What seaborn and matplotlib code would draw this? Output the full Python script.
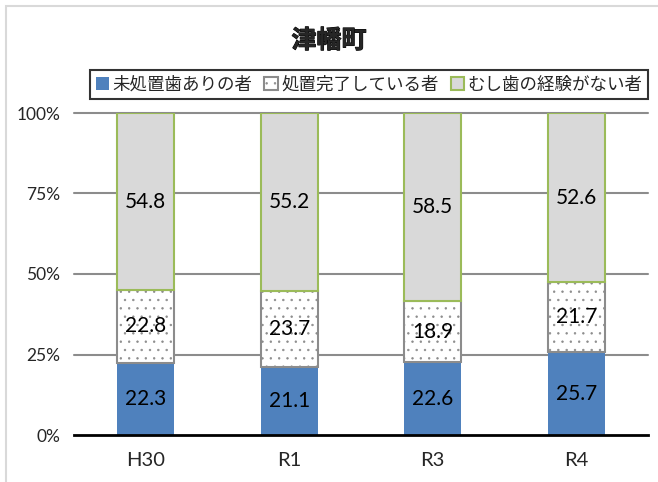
import matplotlib
matplotlib.use("Agg")
import matplotlib.pyplot as plt
import matplotlib.patheffects as pe
import seaborn as sns
import pandas as pd
import numpy as np
from matplotlib.patches import Rectangle

categories = ["H30", "R1", "R3", "R4"]
untreated = [22.3, 21.1, 22.6, 25.7]
treated = [22.8, 23.7, 18.9, 21.7]
no_caries = [54.8, 55.2, 58.5, 52.6]
series_names = ["未処置歯ありの者", "処置完了している者", "むし歯の経験がない者"]
title = "津幡町"
ytick_vals = [0, 25, 50, 75, 100]
ytick_labels = ["0%", "25%", "50%", "75%", "100%"]

sns.set_theme(style="white")
plt.rcParams["font.family"] = ["Noto Sans CJK JP", "DejaVu Sans"]
plt.rcParams["hatch.linewidth"] = 0.5

df = pd.DataFrame({"cat": categories, "a": untreated, "b": treated, "c": no_caries})
df["ab"] = df["a"] + df["b"]

fig = plt.figure(figsize=(6.58, 4.82), dpi=100)
ax = fig.add_axes([74/658, 1-435/482, (648-74)/658, (435-113)/482])

blue = "#4F81BD"
gray_fill = "#D9D9D9"
green = "#9BBB59"
mid_edge = "#8C8C8C"

sns.barplot(data=df, x="cat", y="a", ax=ax, color=blue, width=0.4,
            edgecolor="none", linewidth=0, saturation=1, label=series_names[0], zorder=3)
sns.barplot(data=df, x="cat", y="b", ax=ax, color="white", width=0.4, bottom=df["a"],
            edgecolor=mid_edge, linewidth=1.5, hatch="..", saturation=1,
            label=series_names[1], zorder=3)
sns.barplot(data=df, x="cat", y="c", ax=ax, color=gray_fill, width=0.4, bottom=df["ab"],
            edgecolor=green, linewidth=1.5, saturation=1, label=series_names[2], zorder=3)
if ax.get_legend() is not None:
    ax.get_legend().remove()

num_font = ["Lato", "DejaVu Sans"]
for i, cont in enumerate(ax.containers):
    vals = [untreated, treated, no_caries][i]
    for rect, v in zip(cont.patches, vals):
        cx = rect.get_x() + rect.get_width() / 2
        cy = rect.get_y() + rect.get_height() / 2
        ax.text(cx, cy, f"{v:.1f}", ha="center", va="center", fontsize=15,
                family=num_font, color="black", zorder=5)

ax.set_ylim(0, 100)
ax.set_xlim(-0.5, 3.5)
ax.set_yticks(ytick_vals)
ax.set_yticklabels(ytick_labels, family=num_font, fontsize=12.5)
ax.set_xticks(range(len(categories)))
ax.set_xticklabels(categories, family=num_font, fontsize=14.5)
ax.tick_params(axis="x", pad=12, length=0)
ax.tick_params(axis="y", pad=10, length=0)
ax.set_xlabel("")
ax.set_ylabel("")
for y in ytick_vals[1:]:
    ax.axhline(y, color="#8C8C8C", lw=1.5, zorder=1, clip_on=False)
for s in ["top", "right", "left"]:
    ax.spines[s].set_visible(False)
ax.spines["bottom"].set_color("black")
ax.spines["bottom"].set_linewidth(2)
ax.spines["bottom"].set_zorder(6)

handles = [c.patches[0] for c in ax.containers]
leg = fig.legend(handles, series_names, loc="center",
                 bbox_to_anchor=((88+650)/2/658, 1-84.5/482), ncol=3,
                 fontsize=12.6, frameon=True, fancybox=False, handlelength=0.75,
                 handleheight=0.75, handletextpad=0.2, columnspacing=0.7,
                 borderpad=0.3, borderaxespad=0)
leg.get_frame().set_edgecolor("black")
leg.get_frame().set_linewidth(1.5)

fig.text(0.5, 1-41/482, title, ha="center", va="center", fontsize=18, fontweight="bold",
         path_effects=[pe.withStroke(linewidth=0.7, foreground="black")])

fig.patches.append(Rectangle((5.5/658, -0.1), 1.2, (1-5.5/482)+0.1, transform=fig.transFigure,
                             fill=False, edgecolor="#D9D9D9", lw=1.5))

fig.savefig("out.png", dpi=100)
